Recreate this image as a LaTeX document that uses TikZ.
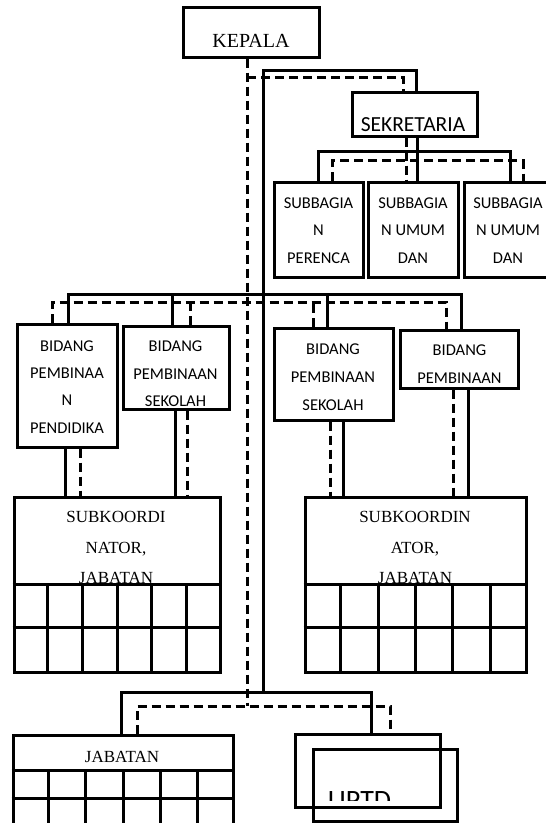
\documentclass[tikz,border=0pt]{standalone}
\usepackage{fontspec}
\setmainfont{Liberation Serif}
\newfontfamily\calibri{Carlito}
\usetikzlibrary{positioning,calc}

\begin{document}
\begin{tikzpicture}[x=1pt,y=-1pt,
  box/.style 2 args={draw,line width=3pt,minimum width=#1,minimum height=#2,inner sep=0pt},
  sline/.style={line width=3pt},
  dline/.style={line width=3pt,dash pattern=on 9pt off 5pt},
  grid/.style={line width=3pt},
  sans/.style={font=\calibri\fontsize{16.5}{27.3}\selectfont,align=center,anchor=base,inner sep=0pt},
  serif/.style={font=\fontsize{17}{30.5}\selectfont,align=center,anchor=base,inner sep=0pt}]
\useasboundingbox (0,0) rectangle (546,823);

% boxes
\node[box={136}{50}] (kepala) at (251,32) {};
\node[box={125}{44}] (sekretaria) at (414.5,114) {};
\node[box={89}{95}] (subA) at (318.5,229.5) {};
\node[box={90}{95}] (subB) at (413,229.5) {};
\node[box={92}{95}] (subC) at (510,229.5) {};
\node[box={100}{123}] (bidA) at (67,385.5) {};
\node[box={106}{83}] (bidB) at (176,367.5) {};
\node[box={119}{92}] (bidC) at (333.5,374) {};
\node[box={118}{58}] (bidD) at (459,359) {};
\node[box={206}{175}] (subkoorA) at (117,584.5) {};
\node[box={221}{175}] (subkoorB) at (415.5,584.5) {};
\node[box={220}{93}] (jabatan) at (123,781.5) {};
\node[box={145}{73}] (uptdA) at (367.5,770.5) {};
\node[box={144}{72}] (uptdB) at (385,785) {};

% texts (base = last line)
\node[serif,font=\fontsize{20}{24}\selectfont] (kepalatxt) at (251,47) {KEPALA};
\node[sans,font=\calibri\fontsize{21.5}{26}\selectfont] (sekretariatxt) at (413,131) {SEKRETARIA};
\node[sans] (subAtxt) at (318.5,263) {SUBBAGIA\\N\\PERENCA};
\node[sans] (subBtxt) at (413,263) {SUBBAGIA\\N UMUM\\DAN};
\node[sans] (subCtxt) at (508,263) {SUBBAGIA\\N UMUM\\DAN};
\node[sans] (bidAtxt) at (67,433) {BIDANG\\PEMBINAA\\N\\PENDIDIKA};
\node[sans] (bidBtxt) at (175.5,406.5) {BIDANG\\PEMBINAAN\\SEKOLAH};
\node[sans,font=\calibri\fontsize{16.5}{28}\selectfont] (bidCtxt) at (333,410) {BIDANG\\PEMBINAAN\\SEKOLAH};
\node[sans] (bidDtxt) at (459.5,383) {BIDANG\\PEMBINAAN};
\node[serif] (subkoorAtxt) at (116,583.5) {SUBKOORDI\\NATOR,\\JABATAN};
\node[serif] (subkoorBtxt) at (415,583.5) {SUBKOORDIN\\ATOR,\\JABATAN};
\node[serif] (jabatantxt) at (122,762) {JABATAN};
\begin{scope}
\clip (300,740) rectangle (460,800);
\node[sans,font=\calibri\fontsize{28}{32}\selectfont] (uptdtxt) at (359.5,809) {UPTD};
\end{scope}

% tables
\foreach \b/\hh/\rh in {subkoorA/89/43,subkoorB/89/43,jabatan/37/28}{
  \path (\b.north west) ++(0,\hh) coordinate (\b h) ++(0,\rh) coordinate (\b r);
  \draw[grid] (\b h) -- (\b h -| \b.east);
  \draw[grid] (\b r) -- (\b r -| \b.east);
  \foreach \i in {1,...,5}
    \draw[grid] ($(\b h)!\i/6!(\b h -| \b.east)$) -- ($(\b.south west)!\i/6!(\b.south east)$);
}

% main lines
\coordinate (dtop) at (247,77);
\coordinate (stop) at (263,70);
\coordinate (dmid) at (247,302);
\coordinate (smid) at (263,294);
\coordinate (dbot) at (247,706);
\coordinate (sbot) at (263,692);
\draw[dline] (kepala.south -| dtop) -- (dbot);
\draw[sline] (sbot) -- (stop) -| ([xshift=1.5pt]sekretaria.north);
\draw[dline] (dtop) -| ([xshift=-11.5pt]sekretaria.north);

% sekretaria
\draw[sline] ([xshift=2.5pt]sekretaria.south) -- ([xshift=2.5pt]sekretaria.south |- subB.north);
\draw[dline] ([xshift=-8.5pt]sekretaria.south) -- ([xshift=-8.5pt]sekretaria.south |- subB.north);
\draw[sline] (subA.north) -- ++(0,-29) -| (subC.north);
\draw[dline] ([xshift=13.5pt]subA.north) -- ++(0,-20) -| ([xshift=13pt]subC.north);

% bidang
\draw[sline] ([xshift=1pt]bidA.north) |- (smid) -| ([xshift=2pt]bidD.north);
\draw[sline] ([xshift=-4pt]bidB.north) -- ([xshift=-4pt]bidB.north |- smid);
\draw[sline] ([xshift=-6.5pt]bidC.north) -- ([xshift=-6.5pt]bidC.north |- smid);
\draw[dline] ([xshift=-15pt]bidA.north) |- (dmid) -| ([xshift=-13pt]bidD.north);
\draw[dline] ([xshift=14pt]bidB.north) -- ([xshift=14pt]bidB.north |- dmid);
\draw[dline] ([xshift=-20.5pt]bidC.north) -- ([xshift=-20.5pt]bidC.north |- dmid);

\draw[sline] ([xshift=-2pt]bidA.south) -- ([xshift=-2pt]bidA.south |- subkoorA.north);
\draw[dline] ([xshift=13pt]bidA.south) -- ([xshift=13pt]bidA.south |- subkoorA.north);
\draw[sline] ([xshift=-1pt]bidB.south) -- ([xshift=-1pt]bidB.south |- subkoorA.north);
\draw[dline] ([xshift=11pt]bidB.south) -- ([xshift=11pt]bidB.south |- subkoorA.north);
\draw[dline] ([xshift=-3.5pt]bidC.south) -- ([xshift=-3.5pt]bidC.south |- subkoorB.north);
\draw[sline] ([xshift=9.5pt]bidC.south) -- ([xshift=9.5pt]bidC.south |- subkoorB.north);
\draw[dline] ([xshift=-6pt]bidD.south) -- ([xshift=-6pt]bidD.south |- subkoorB.north);
\draw[sline] ([xshift=9pt]bidD.south) -- ([xshift=9pt]bidD.south |- subkoorB.north);

% bottom
\draw[sline] ([xshift=-2pt]jabatan.north) |- (sbot) -| ([xshift=3.5pt]uptdA.north);
\draw[dline] ([xshift=14pt]jabatan.north) |- (dbot) -| ([xshift=22.5pt]uptdA.north);
\end{tikzpicture}
\end{document}
